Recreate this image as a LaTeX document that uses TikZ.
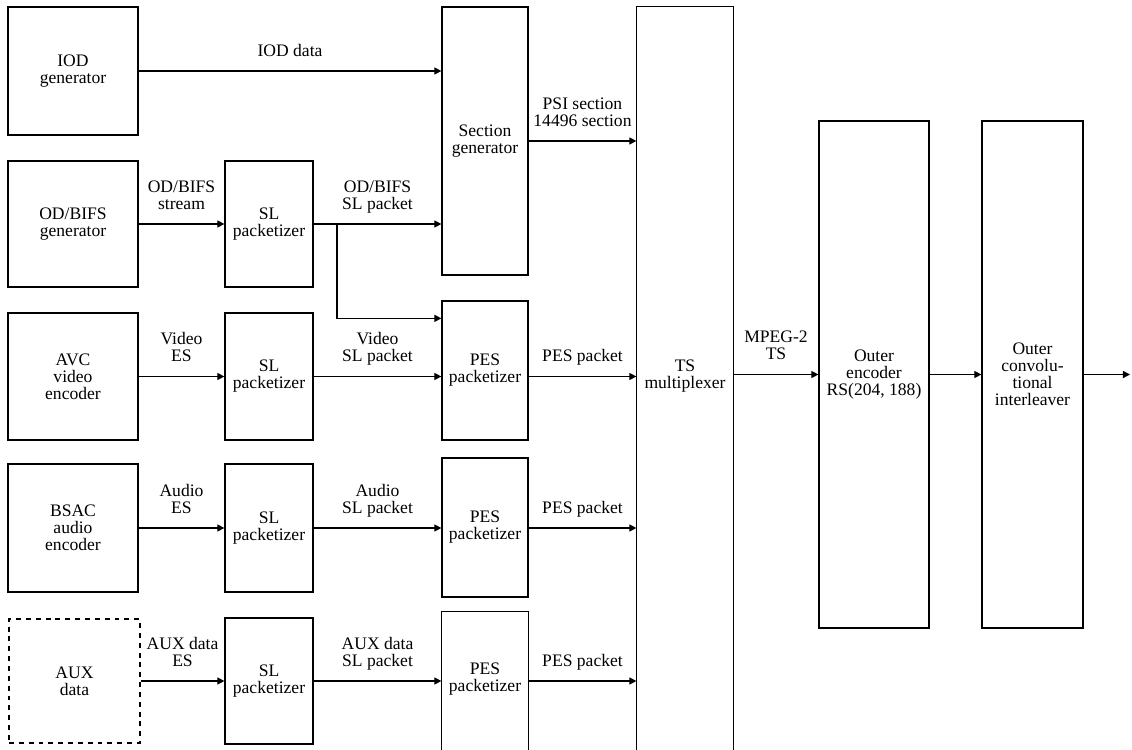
\documentclass[tikz,border=0pt]{standalone}
\usepackage{fontspec}
\setmainfont{Liberation Serif}
\usepackage{tikz}
\usetikzlibrary{arrows.meta, positioning, calc}

\begin{document}
\begin{tikzpicture}[
  every node/.style={font=\fontsize{10}{9.7}\selectfont},
  block/.style={draw, line width=0.7pt, align=center, inner sep=1pt},
  arr/.style={-{Triangle[length=4pt, width=4pt]}, line width=0.7pt},
  lab/.style={above=5pt, align=center, inner sep=1pt, text depth=2pt},
]
  \useasboundingbox (0,0) rectangle (22.64,14.98);

  % Sources
  \node[block, minimum width=2.6cm, minimum height=2.56cm] (iod) at (1.46,13.56) {IOD\\generator};
  \node[block, minimum width=2.6cm, minimum height=2.52cm] (odgen) at (1.46,10.50) {OD/BIFS\\generator};
  \node[block, minimum width=2.6cm, minimum height=2.54cm] (avc) at (1.46,7.45) {AVC\\video\\encoder};
  \node[block, minimum width=2.6cm, minimum height=2.56cm] (bsac) at (1.46,4.42) {BSAC\\audio\\encoder};
  \node[block, dash pattern=on 2.8pt off 2.8pt, minimum width=2.62cm, minimum height=2.48cm] (aux) at (1.49,1.36) {AUX\\data};

  % SL packetizers
  \node[block, minimum width=1.76cm, minimum height=2.52cm] (slA) at (5.38,10.50) {SL\\packetizer};
  \node[block, minimum width=1.76cm, minimum height=2.54cm] (slB) at (5.38,7.45) {SL\\packetizer};
  \node[block, minimum width=1.76cm, minimum height=2.56cm] (slC) at (5.38,4.42) {SL\\packetizer};
  \node[block, minimum width=1.76cm, minimum height=2.52cm] (slD) at (5.38,1.36) {SL\\packetizer};

  % Section generator and PES packetizers
  \node[block, minimum width=1.72cm, minimum height=5.36cm] (secgen) at (9.70,12.16) {Section\\generator};
  \node[block, minimum width=1.72cm, minimum height=2.78cm] (pesA) at (9.70,7.57) {PES\\packetizer};
  \node[block, minimum width=1.72cm, minimum height=2.78cm] (pesB) at (9.70,4.43) {PES\\packetizer};
  \node[block, draw=none, minimum width=1.72cm, minimum height=2.68cm] (pesC) at (9.70,1.40) {PES\\packetizer};
  \draw[line width=0.7pt] ([yshift=-1cm]pesC.south west) |- (pesC.north east) -- ++(0,-3);

  % Multiplexer and outer coding
  \node[block, draw=none, minimum width=1.92cm, minimum height=14.76cm] (tsmux) at (13.70,7.46) {TS\\multiplexer};
  \draw[line width=0.7pt] ([yshift=-1cm]tsmux.south west) |- (tsmux.north east) -- ++(0,-16);
  \node[block, minimum width=2.2cm, minimum height=10.14cm] (outenc) at (17.48,7.49) {Outer\\encoder\\RS(204, 188)};
  \node[block, minimum width=2.02cm, minimum height=10.14cm] (interl) at (20.65,7.49) {Outer\\convolu-\\tional\\interleaver};
  \coordinate (out) at (22.60,7.49);

  % Row 1
  \draw[arr] (iod.east) -- (iod.east -| secgen.west) node[lab, midway] {IOD data};
  % Row 2
  \draw[arr] (odgen.east) -- (slA.west) node[lab, midway] {OD/BIFS\\stream};
  \draw[arr] (slA.east) -- (slA.east -| secgen.west) node[lab, midway] {OD/BIFS\\SL packet};
  \coordinate (branch) at (6.74,10.50);
  \coordinate (brend) at ([yshift=-0.36cm]pesA.north west);
  \draw[arr] (branch) |- (brend);
  \draw[arr] (secgen.east) -- (secgen.east -| tsmux.west) node[lab, midway] {PSI section\\14496 section};
  % Row 3
  \draw[arr] (avc.east) -- (slB.west) node[lab, midway] {Video\\ES};
  \draw[arr] (slB.east) -- (slB.east -| pesA.west) node[lab, midway] {Video\\SL packet};
  \draw[arr] (pesA.east |- slB.east) -- (tsmux.west |- slB.east) node[lab, midway] {PES packet};
  % Row 4
  \draw[arr] (bsac.east) -- (slC.west) node[lab, midway] {Audio\\ES};
  \draw[arr] (slC.east) -- (slC.east -| pesB.west) node[lab, midway] {Audio\\SL packet};
  \draw[arr] (pesB.east |- slC.east) -- (tsmux.west |- slC.east) node[lab, midway] {PES packet};
  % Row 5
  \draw[arr] (aux.east) -- (slD.west) node[lab, midway] {AUX data\\ES};
  \draw[arr] (slD.east) -- (slD.east -| pesC.west) node[lab, midway] {AUX data\\SL packet};
  \draw[arr] (pesC.east |- slD.east) -- (tsmux.west |- slD.east) node[lab, midway] {PES packet};

  % Output chain
  \draw[arr] (tsmux.east |- outenc.west) -- (outenc.west) node[lab, midway] {MPEG-2\\TS};
  \draw[arr] (outenc) -- (interl);
  \draw[arr] (interl) -- (out);
\end{tikzpicture}
\end{document}
